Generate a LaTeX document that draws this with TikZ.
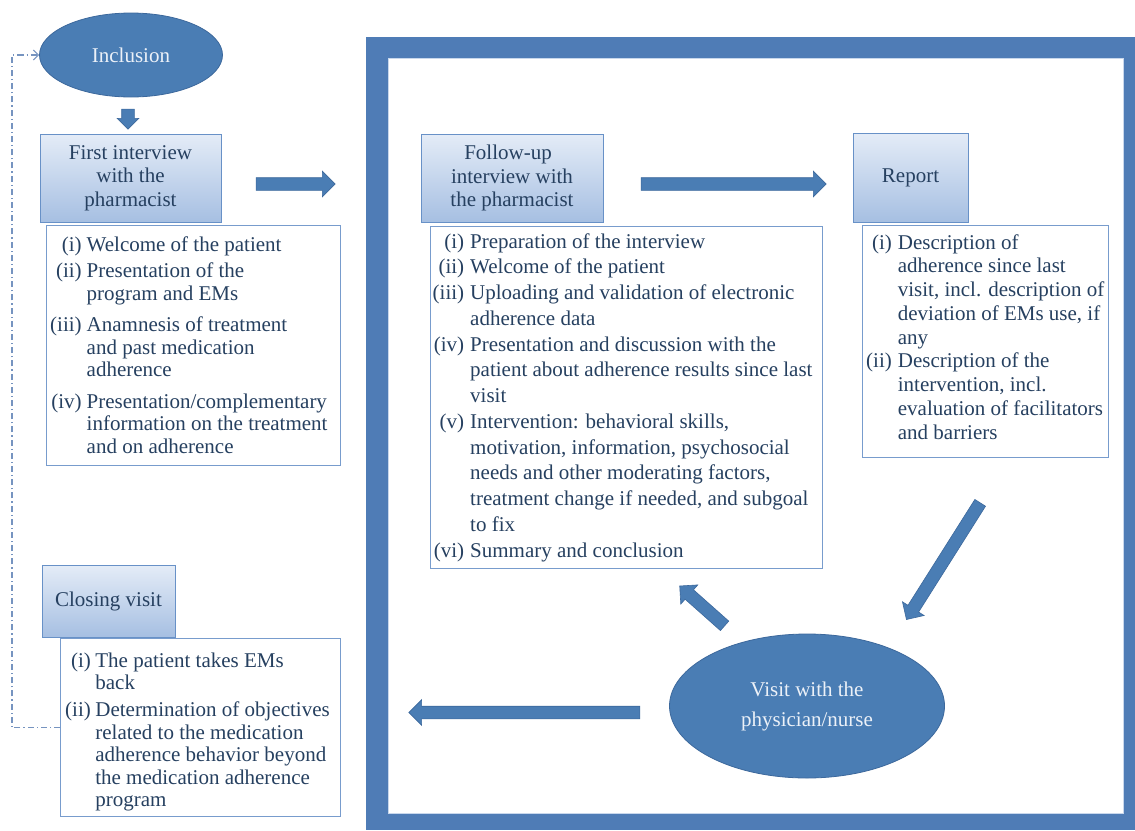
\documentclass[tikz,border=0pt]{standalone}
\usepackage{fontspec}
\setmainfont{Liberation Serif}
\usetikzlibrary{shapes.geometric,shapes.arrows,arrows.meta}
\definecolor{frameblue}{RGB}{79,124,182}
\definecolor{nodeblue}{RGB}{74,125,180}
\definecolor{nodeedge}{RGB}{60,104,156}
\definecolor{txtblue}{RGB}{38,64,96}
\definecolor{hdtop}{RGB}{228,236,247}
\definecolor{hdbot}{RGB}{166,191,226}
\definecolor{hdedge}{RGB}{104,145,199}
\definecolor{boxedge}{RGB}{120,156,205}
\definecolor{dashcol}{RGB}{118,148,192}
\definecolor{ovaltext}{RGB}{236,241,248}
\definecolor{inneredge}{RGB}{200,215,236}
\begin{document}
\begin{tikzpicture}[x=1pt,y=-1pt,
  every node/.style={font=\fontsize{21}{23.5}\selectfont, text=txtblue},
  oval/.style={ellipse, draw=nodeedge, fill=nodeblue, line width=0.8pt, text=ovaltext, inner sep=0pt, align=center},
  header/.style={rectangle, draw=hdedge, top color=hdtop, bottom color=hdbot, line width=0.9pt, align=center, inner sep=0pt},
  listbox/.style={rectangle, draw=boxedge, line width=1pt, fill=white, anchor=north west, inner sep=0pt},
  listtext/.style={anchor=base west, inner sep=0pt},
  barrow/.style={single arrow, draw=nodeedge, fill=nodeblue, line width=0.6pt, inner xsep=0pt, inner ysep=6pt, single arrow head extend=6.5pt, single arrow tip angle=90},
  feedback/.style={draw=dashcol, line width=1.1pt, dash pattern=on 6pt off 3pt on 1.2pt off 3pt, -{Straight Barb[length=5pt,width=10pt]}}
]
\useasboundingbox (0,0) rectangle (1135,830);
% frame
\fill[frameblue] (366,37) rectangle (1135,830);
\fill[white] (388,58) rectangle (1123,813);
\draw[inneredge, line width=0.8pt] (388,58) rectangle (1123,813);

% list boxes
\node[listbox, minimum width=294pt, minimum height=240pt] (l1) at (46,225) {};
\node[listbox, minimum width=392pt, minimum height=342pt] (l2) at (430,226) {};
\node[listbox, minimum width=246pt, minimum height=232pt] (l3) at (862,225) {};
\node[listbox, minimum width=280pt, minimum height=178pt] (l4) at (60,638) {};

\node[listtext, font=\fontsize{21}{22.5}\selectfont] (t1) at (50,251) {\begin{tabular}[t]{@{}r@{\hspace{5pt}}l@{}}
(i) & Welcome of the patient\\[4pt]
(ii) & Presentation of the\\
 & program and EMs\\[9pt]
(iii) & Anamnesis of treatment\\
 & and past medication\\
 & adherence\\[9pt]
(iv) & Presentation/complementary\\
 & information on the treatment\\
 & and on adherence
\end{tabular}};

\node[listtext, font=\fontsize{21}{25.75}\selectfont] (t2) at (432.5,248) {\begin{tabular}[t]{@{}r@{\hspace{6pt}}l@{}}
(i) & Preparation of the interview\\
(ii) & Welcome of the patient\\
(iii) & Uploading and validation of electronic\\
 & adherence data\\
(iv) & Presentation and discussion with the\\
 & patient about adherence results since last\\
 & visit\\
(v) & Intervention: behavioral skills,\\
 & motivation, information, psychosocial\\
 & needs and other moderating factors,\\
 & treatment change if needed, and subgoal\\
 & to fix\\
(vi) & Summary and conclusion
\end{tabular}};

\node[listtext, font=\fontsize{21}{23.75}\selectfont] (t3) at (866,249) {\begin{tabular}[t]{@{}r@{\hspace{6pt}}l@{}}
(i) & Description of\\
 & adherence since last\\
 & visit, incl. description of\\
 & deviation of EMs use, if\\
 & any\\
(ii) & Description of the\\
 & intervention, incl.\\
 & evaluation of facilitators\\
 & and barriers
\end{tabular}};

\node[listtext, font=\fontsize{21}{22.5}\selectfont] (t4) at (65,667) {\begin{tabular}[t]{@{}r@{\hspace{4.5pt}}l@{}}
(i) & The patient takes EMs\\
 & back\\[4.5pt]
(ii) & Determination of objectives\\
 & related to the medication\\
 & adherence behavior beyond\\
 & the medication adherence\\
 & program
\end{tabular}};

% headers
\node[header, minimum width=181pt, minimum height=88pt] (h1) at (130.5,178) {First interview\\with the\\pharmacist};
\node[header, minimum width=182pt, minimum height=88pt] (h2) at (512,178) {\hspace*{-8pt}Follow-up\\interview with\\the pharmacist};
\node[header, minimum width=115pt, minimum height=89pt] (h3) at (910.5,177.5) {Report};
\node[header, minimum width=133pt, minimum height=72pt] (h4) at (108.5,601) {Closing visit};

% ovals
\node[oval, minimum width=183pt, minimum height=84pt] (incl) at (131,55) {Inclusion};
\node[oval, minimum width=275pt, minimum height=144pt, font=\fontsize{21}{30}\selectfont] (visit) at (807,706) {Visit with the\\physician/nurse};

% block arrows
\node[barrow, minimum height=20pt, single arrow head extend=4.5pt, rotate=-90] (a1) at (128,116) {};
\node[barrow, minimum height=79pt] (a2) at (292.5,184) {};
\node[barrow, minimum height=185pt] (a3) at (730.5,184) {};
\node[barrow, minimum height=138pt, rotate=-122.3] (a4) at (945,558.5) {};
\node[barrow, minimum height=60pt, rotate=138.4] (a5) at (704.5,608) {};
\node[barrow, minimum height=231pt, rotate=180] (a6) at (527.5,712.5) {};

% feedback connector
\draw[feedback] (l4.west) -- ++(-48,0) |- (incl.west);
\end{tikzpicture}
\end{document}
